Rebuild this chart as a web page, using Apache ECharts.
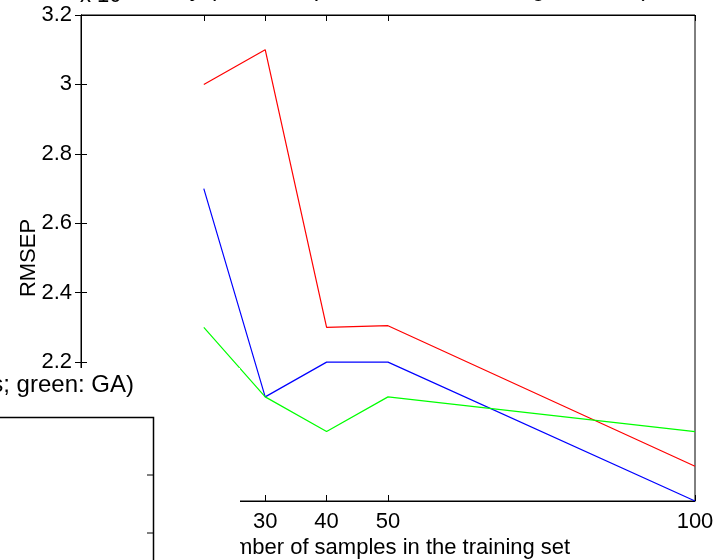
<!DOCTYPE html>
<html>
<head>
<meta charset="utf-8">
<script src="https://cdn.jsdelivr.net/npm/echarts@6/dist/echarts.min.js"></script>
<style>
  html, body { margin: 0; padding: 0; background: #fff; }
  #chart { width: 720px; height: 560px; }
</style>
</head>
<body>
<div id="chart"></div>
<script>
// Training-set sizes and RMSEP for the three variable-selection strategies
const sampleCounts = [20, 30, 40, 50, 100];
const redRmsep = [3.0, 3.1, 2.3, 2.305, 1.9];
const blueRmsep = [2.7, 2.1, 2.2, 2.2, 1.8];
const greenRmsep = [2.3, 2.1, 2.0, 2.1, 2.0];
const xTickValues = [20, 30, 40, 50, 100];

const FONT = '"Liberation Sans", Arial, Helvetica, sans-serif';
const toPairs = ys => sampleCounts.map((x, i) => [x, ys[i]]);

const chart = echarts.init(document.getElementById('chart'), null, { renderer: 'canvas' });

const axisLine = { show: true, lineStyle: { color: '#000', width: 1 } };
const tickIn = { show: true, inside: true, length: 6, lineStyle: { color: '#000', width: 1 } };

chart.setOption({
  animation: false,
  backgroundColor: '#fff',
  grid: {
    left: 81, top: 15, width: 614, height: 486,
    outerBoundsMode: 'none', containLabel: false,
    show: true, borderColor: '#000', borderWidth: 1, backgroundColor: 'transparent'
  },
  xAxis: [
    {
      type: 'value', min: 0, max: 100, position: 'bottom',
      axisLine,
      axisTick: Object.assign({ customValues: xTickValues }, tickIn),
      axisLabel: {
        customValues: xTickValues, color: '#000', fontSize: 22, fontFamily: FONT,
        margin: 10, showMinLabel: true, showMaxLabel: true
      },
      splitLine: { show: false },
      name: 'Number of samples in the training set',
      nameLocation: 'middle', nameGap: 36, nameMoveOverlap: false,
      nameTextStyle: { color: '#000', fontSize: 22, fontFamily: FONT }
    },
    {
      type: 'value', min: 0, max: 100, position: 'top',
      axisLine,
      axisTick: Object.assign({ customValues: xTickValues }, tickIn),
      axisLabel: { show: false },
      splitLine: { show: false }
    }
  ],
  yAxis: [
    {
      type: 'value', min: 1.8, max: 3.2, interval: 0.2, position: 'left',
      axisLine, axisTick: tickIn,
      axisLabel: { color: '#000', fontSize: 22, fontFamily: FONT, margin: 9 },
      splitLine: { show: false },
      name: 'RMSEP', nameLocation: 'middle', nameGap: 41, nameRotate: 90, nameMoveOverlap: false,
      nameTextStyle: { color: '#000', fontSize: 22, fontFamily: FONT }
    },
    {
      type: 'value', min: 1.8, max: 3.2, interval: 0.2, position: 'right',
      axisLine, axisTick: tickIn,
      axisLabel: { show: false },
      splitLine: { show: false }
    }
  ],
  series: [
    { name: 'full spectrum', type: 'line', data: toPairs(redRmsep), showSymbol: false,
      lineStyle: { color: '#ff0000', width: 1.2 }, itemStyle: { color: '#ff0000' } },
    { name: 'SPA', type: 'line', data: toPairs(blueRmsep), showSymbol: false,
      lineStyle: { color: '#0000ff', width: 1.2 }, itemStyle: { color: '#0000ff' } },
    { name: 'GA', type: 'line', data: toPairs(greenRmsep), showSymbol: false,
      lineStyle: { color: '#00ff00', width: 1.2 }, itemStyle: { color: '#00ff00' } }
  ],
  graphic: [
    // axes title and exponent marker along the top edge
    { type: 'text', left: 103, top: -23, z: 5,
      style: { text: 'Accuracy (red: full spectrum; blue: SPA; green: GA)', font: '24px ' + FONT, fill: '#000' } },
    { type: 'text', left: 80, top: -15, z: 5,
      style: { text: 'x 10', font: '22px ' + FONT, fill: '#000' } },
    // neighbouring subplot overlapping the lower-left corner
    { type: 'rect', shape: { x: 0, y: 368, width: 240, height: 192 }, z: 20,
      style: { fill: '#fff' } },
    { type: 'text', z: 21, x: 134, y: 385,
      style: { text: 'Accuracy (red: full spectrum; blue: selected variables; green: GA)',
               font: '24px ' + FONT, fill: '#000', align: 'right', verticalAlign: 'middle' } },
    { type: 'polyline', z: 21, shape: { points: [[0, 417.5], [153.5, 417.5], [153.5, 560]] },
      style: { stroke: '#000', lineWidth: 1.5, fill: null } },
    { type: 'line', z: 21, shape: { x1: 147, y1: 475, x2: 153, y2: 475 },
      style: { stroke: '#000', lineWidth: 1 } },
    { type: 'line', z: 21, shape: { x1: 147, y1: 533, x2: 153, y2: 533 },
      style: { stroke: '#000', lineWidth: 1 } }
  ]
});
</script>
</body>
</html>
